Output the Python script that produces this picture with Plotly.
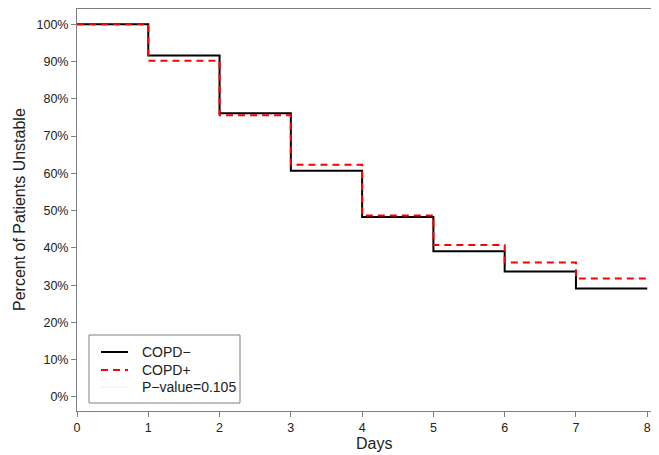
import plotly.graph_objects as go

days = [0, 1, 2, 3, 4, 5, 6, 7, 8]
copd_neg = [100, 91.6, 76.1, 60.7, 48.3, 39.1, 33.7, 29.1, 29.1]
copd_pos = [100, 90.2, 75.6, 62.3, 48.7, 40.8, 36.1, 31.8, 31.8]
y_ticks = [0, 10, 20, 30, 40, 50, 60, 70, 80, 90, 100]
y_ticklabels = [f"{v}%" for v in y_ticks]
x_ticks = [0, 1, 2, 3, 4, 5, 6, 7, 8]
legend_labels = ["COPD\u2212", "COPD+", "P\u2212value=0.105"]

FONT = "Liberation Sans, Arial, Helvetica, sans-serif"
AXC = "#808080"

fig = go.Figure()
fig.add_trace(go.Scatter(x=days, y=copd_neg, mode="lines", line_shape="hv",
                         line=dict(color="black", width=2), showlegend=False))
fig.add_trace(go.Scatter(x=days, y=copd_pos, mode="lines", line_shape="hv",
                         line=dict(color="#ff0000", width=2, dash="7px,5px"), showlegend=False))

# page has an 8px body margin; figure sized so plot area lands where the reference has it
OFF = 8
W, H = 659 - OFF, 455 - OFF
PL, PR, PT, PB = 77, 659, 9, 411   # plot area in page pixels
L, R, T, B = PL - OFF, 659 - PR, PT - OFF, 455 - PB
pw, ph = PR - PL, PB - PT

def px_x(p):
    return (p - PL) / pw

def px_y(p):
    return (PB - p) / ph

# legend box
fig.add_shape(type="rect", xref="paper", yref="paper",
              x0=px_x(89), x1=px_x(240), y0=px_y(403), y1=px_y(335),
              line=dict(color=AXC, width=1), fillcolor="white")
leg_y = [352, 370, 387]
leg_styles = [dict(color="black", width=2),
              dict(color="#ff0000", width=2, dash="7px,5px"),
              dict(color="#f0f0f0", width=1)]
for lab, yy, st in zip(legend_labels, leg_y, leg_styles):
    fig.add_shape(type="line", xref="paper", yref="paper",
                  x0=px_x(101), x1=px_x(128), y0=px_y(yy), y1=px_y(yy), line=st)
    fig.add_annotation(xref="paper", yref="paper", x=px_x(140), y=px_y(yy),
                       text=lab, showarrow=False, xanchor="left", yanchor="middle",
                       font=dict(family=FONT, size=14, color="#222"))

fig.add_annotation(xref="paper", yref="paper", x=px_x(374), y=px_y(443),
                   text="Days", showarrow=False, xanchor="center", yanchor="middle",
                   font=dict(family=FONT, size=16, color="#222"))
fig.add_annotation(xref="paper", yref="paper", x=0, xshift=-58, y=px_y(210),
                   text="Percent of Patients Unstable", textangle=-90, showarrow=False,
                   xanchor="center", yanchor="middle",
                   font=dict(family=FONT, size=16, color="#222"))

fig.update_xaxes(range=[0, 8.165], tickvals=x_ticks, ticks="outside", ticklen=5,
                 tickcolor=AXC, showline=True, linecolor=AXC, linewidth=1, mirror=True,
                 showgrid=False, zeroline=False, automargin=False,
                 tickfont=dict(family=FONT, size=12.5, color="#222"))
fig.update_yaxes(range=[-3.76, 104.1], tickvals=y_ticks, ticktext=y_ticklabels,
                 ticks="outside", ticklen=5, tickcolor=AXC, showline=True,
                 linecolor=AXC, linewidth=1, showgrid=False, zeroline=False, automargin=False,
                 tickfont=dict(family=FONT, size=12.5, color="#222"))

fig.update_layout(width=W, height=H, margin=dict(l=L, r=R, t=T, b=B, autoexpand=False),
                  plot_bgcolor="white", paper_bgcolor="white", showlegend=False)

fig.write_html("out.html")
